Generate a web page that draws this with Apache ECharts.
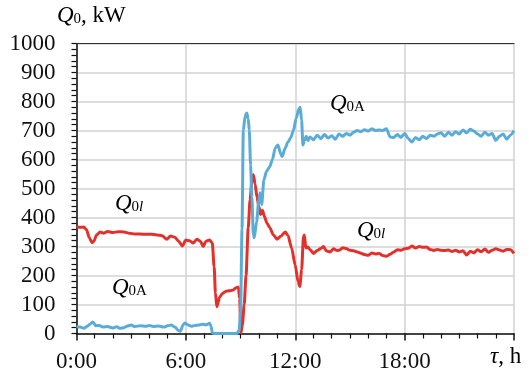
<!DOCTYPE html>
<html>
<head>
<meta charset="utf-8">
<script src="https://cdn.jsdelivr.net/npm/echarts@6/dist/echarts.min.js"></script>
<style>html,body{margin:0;padding:0;background:#fff;}#c{width:529px;height:377px;}</style>
</head>
<body>
<div id="c"></div>
<script>
// Q0l (red) – time in hours, power in kW
const tRed = [0,0.2,0.4,0.55,0.7,0.85,0.95,1.1,1.3,1.5,1.7,2.0,2.3,2.6,2.9,3.2,3.5,3.8,4.1,4.4,4.7,4.95,5.15,5.4,5.6,5.8,6.0,6.2,6.4,6.6,6.8,6.95,7.1,7.3,7.45,7.55,7.62,7.7,7.85,8.0,8.2,8.4,8.6,8.75,8.88,8.95,9.02,9.1,9.2,9.3,9.42,9.52,9.62,9.7,9.8,9.9,10.0,10.1,10.2,10.3,10.45,10.6,10.8,11.0,11.2,11.45,11.6,11.8,12.0,12.15,12.25,12.35,12.45,12.5,12.58,12.7,
  12.8,13.0,13.2,13.4,13.55,13.7,13.9,14.1,14.3,14.45,14.6,14.8,15.0,15.2,15.4,15.6,15.8,16.0,16.2,16.4,16.6,16.8,17.0,17.2,17.4,17.6,17.8,18.0,18.2,18.4,18.6,18.8,19.0,19.2,19.4,19.6,19.8,20.0,20.2,20.4,20.6,20.8,21.0,21.2,21.4,21.6,21.8,22.0,22.2,22.4,22.6,22.8,23.0,23.2,23.4,23.6,23.8,24.0];
const qRed = [368,366,367,358,330,313,318,340,350,346,352,348,351,350,346,343,343,342,342,340,337,325,336,332,318,302,322,320,312,325,318,300,318,322,312,230,140,92,125,138,146,147,150,158,160,120,2,30,100,200,364,460,523,547,515,470,440,410,425,405,380,365,340,325,335,350,338,295,235,180,162,220,335,340,295,298,
  290,276,286,293,300,285,281,292,286,288,296,293,287,285,281,277,272,270,278,274,276,269,266,273,281,289,287,292,294,302,295,300,297,298,290,286,290,287,286,288,283,287,281,285,271,284,278,289,282,291,280,287,292,288,284,290,289,276];

// Q0A (blue)
const tBlue = [0,0.2,0.4,0.6,0.75,0.9,1.05,1.25,1.45,1.7,2.0,2.2,2.4,2.6,2.8,3.0,3.2,3.5,3.8,4.0,4.2,4.5,4.8,5.0,5.2,5.4,5.6,5.7,5.85,5.95,6.1,6.3,6.5,6.7,6.9,7.1,7.3,7.38,7.45,7.6,8.8,8.92,9.0,9.08,9.15,9.25,9.34,9.42,9.48,9.55,9.62,9.7,9.75,9.88,10.0,10.07,10.16,10.28,10.43,10.6,10.75,10.9,11.05,11.2,11.28,11.45,11.6,11.75,11.9,12.05,12.2,12.27,12.35,12.42,12.5,12.6,12.7,
  12.8,13.0,13.2,13.4,13.6,13.8,14.0,14.2,14.4,14.6,14.8,15.0,15.2,15.4,15.6,15.8,16.0,16.2,16.4,16.6,16.8,17.0,17.2,17.4,17.6,17.8,18.0,18.2,18.4,18.6,18.8,19.0,19.2,19.4,19.6,19.8,20.0,20.2,20.4,20.6,20.8,21.0,21.2,21.4,21.6,21.8,22.0,22.2,22.4,22.6,22.8,23.0,23.2,23.4,23.6,23.8,24.0];
const qBlue = [24,22,18,25,33,40,27,28,22,24,19,23,18,20,26,29,24,27,25,28,24,26,22,27,29,22,10,8,30,36,30,25,28,29,32,30,35,25,2,0,0,10,75,360,700,750,760,740,700,580,470,340,330,385,460,485,445,530,560,575,600,640,650,620,610,640,660,675,700,742,775,780,735,650,665,680,665,
  678,668,684,672,686,674,682,670,688,680,690,684,694,700,696,703,698,706,700,702,700,706,678,676,686,676,690,672,660,676,668,680,672,684,680,688,692,680,694,684,696,688,702,692,704,698,688,680,694,684,690,666,680,688,670,684,700];

const xTicks = [0, 6, 12, 18];
const xTickLabels = ['0:00', '6:00', '12:00', '18:00'];

const serif = 'Liberation Serif';
const chart = echarts.init(document.getElementById('c'));

const richStyles = {
  q: { fontFamily: serif, fontStyle: 'italic', fontSize: 23, lineHeight: 26, verticalAlign: 'bottom', color: '#111' },
  s: { fontFamily: serif, fontSize: 15, lineHeight: 10, verticalAlign: 'bottom', color: '#111' },
  si: { fontFamily: serif, fontStyle: 'italic', fontSize: 15, lineHeight: 10, verticalAlign: 'bottom', color: '#111' },
  n: { fontFamily: serif, fontSize: 23, lineHeight: 26, verticalAlign: 'bottom', color: '#111' }
};

function lbl(text, x, y) {
  return { type: 'text', left: x, top: y, z: 10, style: { text: text, rich: richStyles } };
}

chart.setOption({
  animation: false,
  textStyle: { fontFamily: serif },
  grid: { left: 76.5, right: 15, top: 43.5, bottom: 43.5, containLabel: false },
  xAxis: [{
    type: 'value', min: 0, max: 24, interval: 6,
    axisLine: { show: true, onZero: false, lineStyle: { color: '#111', width: 1.5 } },
    axisTick: { show: true, inside: false, length: 7, lineStyle: { color: '#111', width: 1.5 } },
    minorTick: { show: true, splitNumber: 6, length: 5, lineStyle: { color: '#111', width: 1.2 } },
    splitLine: { show: true, lineStyle: { color: '#d2d2d2', width: 1.5 } },
    axisLabel: {
      margin: 17, fontFamily: serif, fontSize: 23, color: '#111',
      formatter: function (v) { const i = xTicks.indexOf(v); return i >= 0 ? xTickLabels[i] : ''; }
    }
  }, {
    type: 'value', min: 0, max: 24, position: 'top',
    axisLine: { show: true, onZero: false, lineStyle: { color: '#333', width: 1.2 } },
    axisTick: { show: false }, axisLabel: { show: false }, splitLine: { show: false }
  }],
  yAxis: {
    type: 'value', min: 0, max: 1000, interval: 100,
    axisLine: { show: true, onZero: false, lineStyle: { color: '#111', width: 1.5 } },
    axisTick: { show: true, inside: false, length: 5, lineStyle: { color: '#111', width: 1.2 } },
    minorTick: { show: true, splitNumber: 5, length: 5, lineStyle: { color: '#111', width: 1.2 } },
    splitLine: { show: true, lineStyle: { color: '#d2d2d2', width: 1.5 } },
    axisLabel: { margin: 21, fontFamily: serif, fontSize: 23, color: '#111', formatter: function (v) { return String(v); } }
  },
  series: [{
    type: 'line', name: 'Q0l', showSymbol: false, smooth: 0.25, smoothMonotone: 'x',
    lineStyle: { color: '#e3302b', width: 3 },
    data: tRed.map((t, i) => [t, qRed[i]])
  }, {
    type: 'line', name: 'Q0A', showSymbol: false, smooth: 0.25, smoothMonotone: 'x',
    lineStyle: { color: '#5aacd8', width: 3 },
    data: tBlue.map((t, i) => [t, qBlue[i]])
  }],
  graphic: [
    lbl('{q|Q}{s|0}{n|, kW}', 57, 4),
    {
      type: 'text', left: 490, top: 345,
      style: {
        text: '{t|τ}{n|, h}',
        rich: {
          t: { fontFamily: serif, fontStyle: 'italic', fontSize: 23, color: '#111' },
          n: { fontFamily: serif, fontSize: 23, color: '#111' }
        }
      }
    },
    lbl('{q|Q}{s|0}{si|l}', 115, 192),
    lbl('{q|Q}{s|0A}', 112, 276),
    lbl('{q|Q}{s|0A}', 330, 92),
    lbl('{q|Q}{s|0}{si|l}', 357, 219)
  ]
});
</script>
</body>
</html>
